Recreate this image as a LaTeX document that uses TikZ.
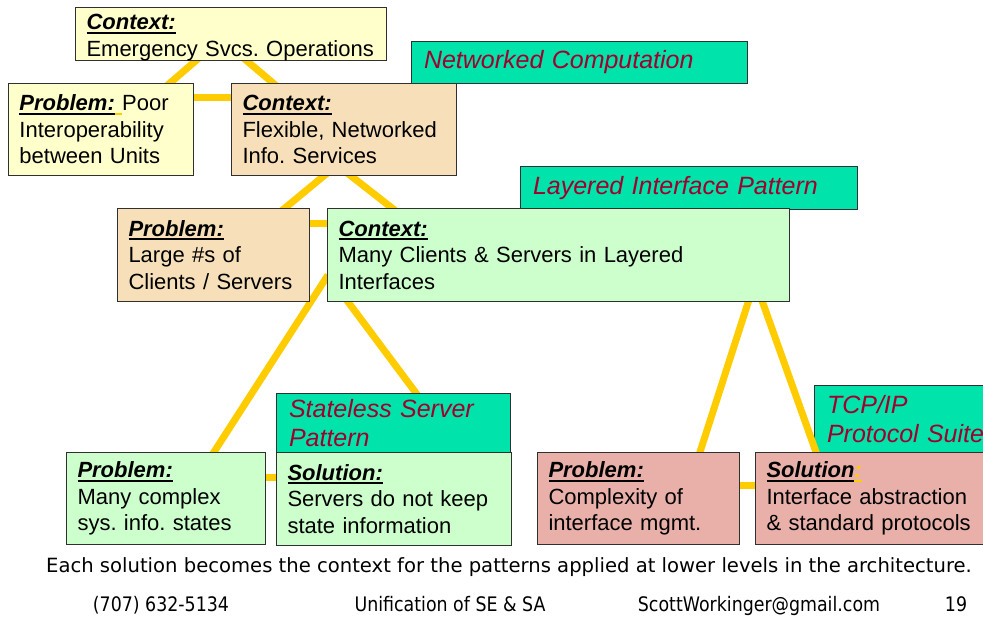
\documentclass[tikz,border=0pt]{standalone}
\usepackage{fontspec}
\setmainfont{Liberation Sans}
\newfontfamily\capfont{DejaVu Sans}
\newfontfamily\footfont[FakeStretch=0.87]{DejaVu Sans}
\usetikzlibrary{calc}

\definecolor{lineyellow}{HTML}{FFCC00}
\definecolor{paleyellow}{HTML}{FFFFCC}
\definecolor{wheatfill}{HTML}{F7E0B9}
\definecolor{palegreen}{HTML}{CCFFCC}
\definecolor{rosefill}{HTML}{E8B0A8}
\definecolor{tealfill}{HTML}{00E3AA}
\definecolor{labelred}{HTML}{A0002E}
\definecolor{edge}{HTML}{303030}

% underline drawn as a rule under the boxed text
\newsavebox\ulsave
\newcommand\ulx[2][black]{\sbox\ulsave{#2}\rlap{\textcolor{#1}{\rule[-4pt]{\wd\ulsave}{2pt}}}\usebox\ulsave}
\newcommand\hd[1]{\ulx{\bfseries\itshape #1}}

\pgfdeclarelayer{back}
\pgfdeclarelayer{links}
\pgfsetlayers{back,links,main}

\tikzset{
  card/.style={draw=edge, line width=1pt, anchor=north west, inner xsep=11pt,
    inner ysep=0pt, align=left, font=\fontsize{22}{26.5}\selectfont\frenchspacing},
  tag/.style={card, fill=tealfill, text=labelred, inner xsep=12.5pt,
    font=\fontsize{25}{28.5}\selectfont\itshape},
  link/.style={draw=lineyellow, line width=7pt},
  footer/.style={anchor=base, inner sep=0pt, font=\footfont\fontsize{20}{24}\selectfont},
}

\begin{document}
\begin{tikzpicture}[x=1pt,y=-1pt]
\useasboundingbox (0,0) rectangle (983,633);
\begin{pgfonlayer}{back}
  \fill[white] (0,0) rectangle (983,633);
  \node[tag, text width=200pt, minimum height=67pt] (tagTcp) at (814,385) {TCP/IP\\Protocol Suite};
\end{pgfonlayer}

% level 1
\node[card, fill=paleyellow, text width=289pt, minimum height=50pt] (ctxTop) at (75,7)
  {\rule{0pt}{22pt}\hd{Context:}\\\mbox{Emergency Svcs. Operations}};
\node[card, fill=paleyellow, text width=163pt, minimum height=92pt] (probPoor) at (8,83)
  {\hd{Problem:}\ulx[lineyellow]{\ }Poor\\Interoperability\\between Units};
\node[card, fill=wheatfill, text width=203pt, minimum height=92pt] (ctxFlex) at (231,83)
  {\hd{Context:}\\Flexible, Networked\\Info. Services};
\node[tag, text width=311pt, minimum height=42pt] (tagNet) at (411,41) {Networked Computation};

% level 2
\node[tag, text width=312pt, minimum height=43pt] (tagLayer) at (520,166) {Layered Interface Pattern};
\node[card, fill=wheatfill, text width=170pt, minimum height=93pt] (probLarge) at (117,208)
  {\hd{Problem:}\\Large \#s of\\Clients / Servers};
\node[card, fill=palegreen, text width=440pt, minimum height=93pt] (ctxMany) at (327,208)
  {\hd{Context:}\\Many Clients \& Servers in Layered\\Interfaces};

% level 3
\node[card, fill=palegreen, text width=177pt, minimum height=92pt] (probMany) at (66,452)
  {\hd{Problem:}\\Many complex\\sys. info. states};
\node[tag, text width=209pt, minimum height=59pt] (tagState) at (276,393) {Stateless Server\\Pattern};
\node[card, fill=palegreen, text width=213pt, minimum height=93pt] (solServ) at (276,452)
  {\hd{Solution:}\\Servers do not keep\\state information};
\node[card, fill=rosefill, text width=180pt, minimum height=92pt] (probCplx) at (537,452)
  {\hd{Problem:}\\Complexity of\\interface mgmt.};
\node[card, fill=rosefill, text width=218pt, minimum height=92pt] (solIntf) at (755,452)
  {\hd{Solution}\ulx[lineyellow]{\bfseries\itshape\textcolor{lineyellow}{:}}\\Interface abstraction\\\& standard protocols};

% yellow connectors, behind the boxes
\begin{pgfonlayer}{links}
  \coordinate (j1) at ($(ctxTop.north west)+(146,32)$);
  \coordinate (j2) at ($(ctxFlex.north west)+(106,82)$);
  \coordinate (j3) at ($(ctxMany.north west)+(1,67)$);
  \coordinate (j4) at ($(ctxMany.north west)+(428,73)$);
  \draw[link, shorten >=-10pt] (j1) -- ($(probPoor.north west)+(162,0)$);
  \draw[link, shorten >=-10pt] (j1) -- ($(ctxFlex.north west)+(42,0)$);
  \draw[link, shorten >=-10pt] (j2) -- ($(probLarge.north west)+(168,0)$);
  \draw[link, shorten >=-10pt] (j2) -- ($(ctxMany.north west)+(65,0)$);
  \draw[link, shorten >=-10pt] (j3) -- ($(probMany.north west)+(148,0)$);
  \draw[link, shorten >=-10pt] (j3) -- ($(solServ.north west)+(184,0)$);
  \draw[link, shorten >=-10pt] (j4) -- ($(probCplx.north west)+(163,0)$);
  \draw[link, shorten >=-10pt] (j4) -- ($(solIntf.north west)+(61,0)$);
  \draw[link] ([yshift=-14pt]probPoor.north east) -- ([yshift=-14pt]ctxFlex.north west);
  \draw[link] ([yshift=-15pt]probLarge.north east) -- ([yshift=-15pt]ctxMany.north west);
  \draw[link] ([yshift=-25pt]probMany.north east) -- ([yshift=-25pt]solServ.north west);
  \draw[link] ([yshift=-33pt]probCplx.north east) -- ([yshift=-33pt]solIntf.north west);
\end{pgfonlayer}

% caption and footer
\node[anchor=base, inner sep=0pt, font=\capfont\fontsize{19.6}{23}\selectfont] (note) at (509,572)
  {Each solution becomes the context for the patterns applied at lower levels in the architecture.};
\node[footer] (phone) at (161,611) {(707) 632-5134};
\node[footer] (title) at (450,611) {Unification of SE \& SA};
\node[footer] (mail) at (759,611) {ScottWorkinger@gmail.com};
\node[footer] (page) at (956,611) {19};
\end{tikzpicture}
\end{document}
